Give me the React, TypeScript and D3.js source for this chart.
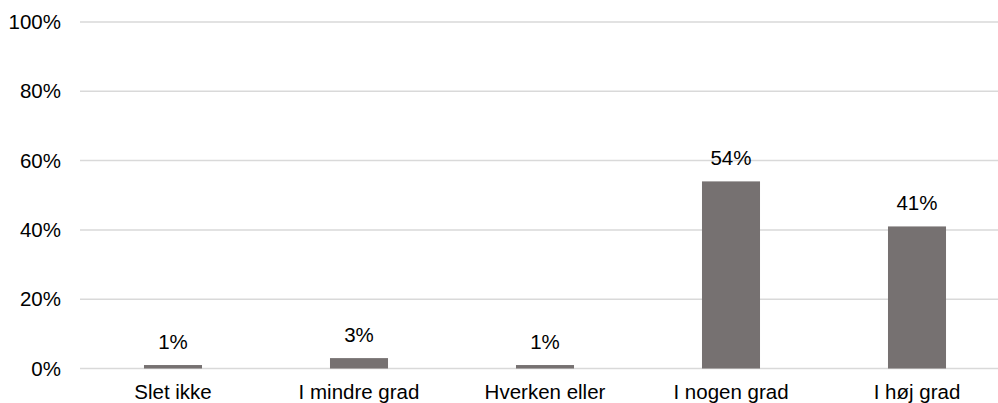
import React from "react";
import * as d3 from "d3";

const categories = ["Slet ikke", "I mindre grad", "Hverken eller", "I nogen grad", "I høj grad"];
const values = [1, 3, 1, 54, 41];
const yTicks = [0, 20, 40, 60, 80, 100];

const W = 998;
const H = 403;
const left = 80;
const right = 1010;
const top = 22;
const bottom = 368.5;
const font = "'Liberation Sans', Arial, sans-serif";

export default function App() {
  const x = d3
    .scaleBand<string>()
    .domain(categories)
    .range([left, right])
    .paddingInner(0.688)
    .paddingOuter(0.344);
  const y = d3.scaleLinear().domain([0, 100]).range([bottom, top]);

  return (
    <svg
      width={W}
      height={H}
      style={{ position: "absolute", left: 0, top: 0, background: "#fff" }}
      fontFamily={font}
    >
      {yTicks.map((t) => (
        <g key={t}>
          <line x1={left} x2={W} y1={y(t)} y2={y(t)} stroke="#d9d9d9" strokeWidth={1.5} />
          <text x={61} y={y(t)} dy="0.35em" textAnchor="end" fontSize={20.5} fill="#000">
            {t}%
          </text>
        </g>
      ))}
      {categories.map((c, i) => {
        const bx = x(c)!;
        const bw = x.bandwidth();
        const v = values[i];
        return (
          <g key={c}>
            <rect x={bx} y={y(v)} width={bw} height={y(0) - y(v)} fill="#767171" />
            <text x={bx + bw / 2} y={y(v) - 16} textAnchor="middle" fontSize={20.5} fill="#000">
              {v}%
            </text>
            <text x={bx + bw / 2} y={399} textAnchor="middle" fontSize={20.5} fill="#000">
              {c}
            </text>
          </g>
        );
      })}
    </svg>
  );
}
